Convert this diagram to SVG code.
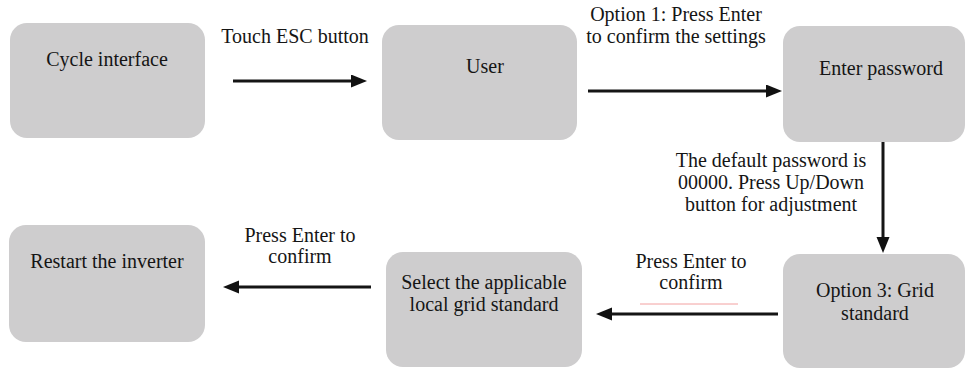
<svg xmlns="http://www.w3.org/2000/svg" width="969" height="369" viewBox="0 0 969 369">
<style>
.box{fill:#cecdce;}
.t{font-family:"Liberation Serif","Times New Roman",serif;font-size:20px;fill:#151515;text-anchor:middle;}
.c{stroke:#151515;stroke-width:3;fill:none;}
</style>
<defs>
<marker id="ah" markerUnits="userSpaceOnUse" markerWidth="18" markerHeight="14" refX="2" refY="6.5" orient="auto">
<path d="M0,0 L16,6.5 L0,13 z" fill="#111"/>
</marker>
</defs>
<rect width="969" height="369" fill="#fff"/>
<g id="n-cycle"><rect class="box" x="10" y="23" width="195" height="115" rx="17"/><text class="t" x="107" y="66">Cycle interface</text></g>
<g id="n-user"><rect class="box" x="382" y="25" width="195" height="115" rx="17"/><text class="t" x="485" y="73">User</text></g>
<g id="n-password"><rect class="box" x="783" y="26" width="182" height="116" rx="17"/><text class="t" x="881" y="75">Enter password</text></g>
<g id="n-grid"><rect class="box" x="783" y="254" width="182" height="114" rx="17"/><text class="t" x="875" y="297">Option 3: Grid</text><text class="t" x="875" y="320">standard</text></g>
<g id="n-select"><rect class="box" x="386" y="252" width="196" height="115" rx="17"/><text class="t" x="484" y="289">Select the applicable</text><text class="t" x="484" y="311">local grid standard</text></g>
<g id="n-restart"><rect class="box" x="9" y="225" width="196" height="117" rx="17"/><text class="t" x="107" y="268">Restart the inverter</text></g>
<g id="connectors">
<line class="c" x1="233" y1="81" x2="353" y2="81" marker-end="url(#ah)"/>
<line class="c" x1="588" y1="91" x2="768" y2="91" marker-end="url(#ah)"/>
<line class="c" x1="883" y1="142" x2="883" y2="239" marker-end="url(#ah)"/>
<line class="c" x1="778" y1="314" x2="610" y2="314" marker-end="url(#ah)"/>
<line class="c" x1="371" y1="287" x2="237" y2="287" marker-end="url(#ah)"/>
</g>
<g id="labels">
<text class="t" x="295" y="43">Touch ESC button</text>
<text class="t" x="676" y="21">Option 1: Press Enter</text>
<text class="t" x="676" y="43">to confirm the settings</text>
<text class="t" x="771" y="167">The default password is</text>
<text class="t" x="771" y="189">00000. Press Up/Down</text>
<text class="t" x="771" y="211">button for adjustment</text>
<text class="t" x="691" y="268">Press Enter to</text>
<text class="t" x="691" y="289">confirm</text>
<text class="t" x="300" y="242">Press Enter to</text>
<text class="t" x="300" y="263">confirm</text>
</g>
<line x1="640" y1="304" x2="738" y2="304" stroke="#f2a0a0" stroke-width="1"/>
</svg>
